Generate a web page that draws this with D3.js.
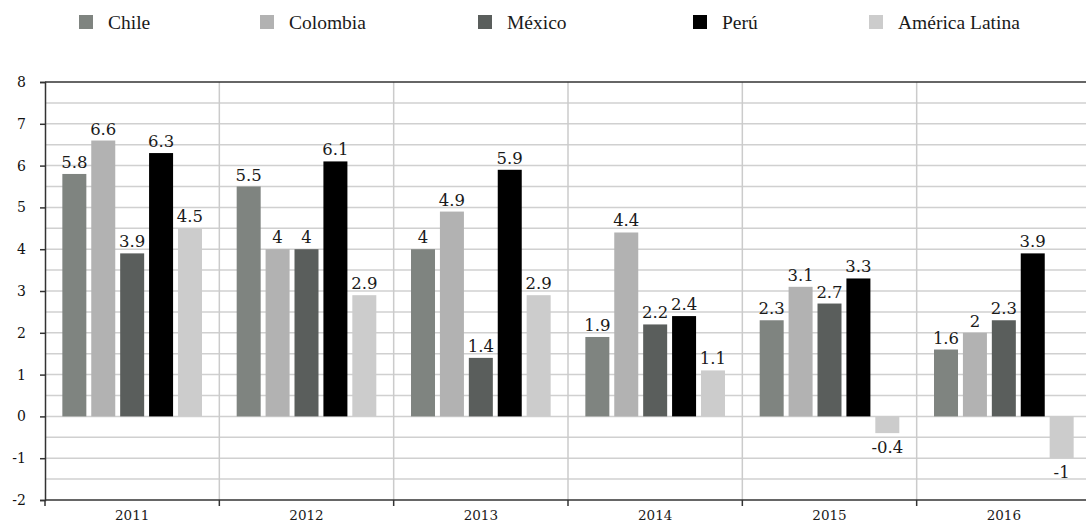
<!DOCTYPE html>
<html>
<head>
<meta charset="utf-8">
<script src="https://cdn.jsdelivr.net/npm/d3@7"></script>
<style>
  body { margin: 0; background: #fff; }
  svg { display: block; }
  .lbl { font-family: "DejaVu Serif", serif; font-size: 16.5px; fill: #1a1a1a; }
  .leg { font-family: "Liberation Serif", serif; font-size: 19.5px; fill: #1a1a1a; }
  .tick text { font-family: "DejaVu Serif", serif; font-size: 14px; fill: #111; }
</style>
</head>
<body>
<script>
// data
var years = ["2011", "2012", "2013", "2014", "2015", "2016"];
var countries = ["Chile", "Colombia", "México", "Perú", "América Latina"];
var chile = [5.8, 5.5, 4, 1.9, 2.3, 1.6];
var colombia = [6.6, 4, 4.9, 4.4, 3.1, 2];
var mexico = [3.9, 4, 1.4, 2.2, 2.7, 2.3];
var peru = [6.3, 6.1, 5.9, 2.4, 3.3, 3.9];
var latam = [4.5, 2.9, 2.9, 1.1, -0.4, -1];
var yTicks = [-2, -1, 0, 1, 2, 3, 4, 5, 6, 7, 8];

var colors = ["#7f8480", "#b2b2b2", "#5a5e5c", "#000000", "#cccccc"];
var seriesList = [chile, colombia, mexico, peru, latam];

var w = 1086, h = 523;
var plotLeft = 45, plotRight = 1091, plotTop = 82, plotBottom = 500;

window.onload = function(){
    var svg = d3.select("body").append("svg")
        .attr("width", w)
        .attr("height", h);

    var x0 = d3.scaleBand().domain(years).range([plotLeft, plotRight]).padding(0);
    var x1 = d3.scaleBand().domain(countries).range([0, x0.bandwidth()])
        .paddingInner(0.17).paddingOuter(0.6);
    var y = d3.scaleLinear().domain([-2, 8]).range([plotBottom, plotTop]);

    //light gridlines every 0.5
    svg.append("g").selectAll("line")
        .data(d3.range(-1.5, 8, 0.5))
        .enter().append("line")
        .attr("x1", plotLeft).attr("x2", plotRight)
        .attr("y1", function(d){ return y(d); })
        .attr("y2", function(d){ return y(d); })
        .style("stroke", "#d0d0d0")
        .style("stroke-width", 1.5);

    //vertical separators between years
    svg.append("g").selectAll("line")
        .data(years.slice(1))
        .enter().append("line")
        .attr("x1", function(d){ return x0(d); })
        .attr("x2", function(d){ return x0(d); })
        .attr("y1", plotTop).attr("y2", plotBottom)
        .style("stroke", "#cbcbcb")
        .style("stroke-width", 1.5);

    //top frame line
    svg.append("line")
        .attr("x1", plotLeft).attr("x2", plotRight)
        .attr("y1", y(8)).attr("y2", y(8))
        .style("stroke", "#333").style("stroke-width", 1.5);

    //flatten to one record per bar
    var bars = [];
    years.forEach(function(yr, i){
        countries.forEach(function(c, j){
            bars.push({year: yr, country: c, value: seriesList[j][i], color: colors[j]});
        });
    });

    svg.selectAll(".bar")
        .data(bars)
        .enter().append("rect")
        .attr("class", "bar")
        .attr("x", function(d){ return x0(d.year) + x1(d.country); })
        .attr("width", x1.bandwidth())
        .attr("y", function(d){ return y(Math.max(0, d.value)); })
        .attr("height", function(d){ return Math.abs(y(d.value) - y(0)); })
        .style("fill", function(d){ return d.color; });

    svg.selectAll(".lbl")
        .data(bars)
        .enter().append("text")
        .attr("class", "lbl")
        .attr("text-anchor", "middle")
        .attr("x", function(d){ return x0(d.year) + x1(d.country) + x1.bandwidth() / 2; })
        .attr("y", function(d){ return d.value >= 0 ? y(d.value) - 6 : y(d.value) + 20; })
        .text(function(d){ return d.value; });

    //y axis
    var yAxis = d3.axisLeft(y).tickValues(yTicks).tickSize(5).tickPadding(14)
        .tickFormat(function(d){ return String(d); });
    var ga = svg.append("g")
        .attr("transform", "translate(" + plotLeft + ",0)")
        .call(yAxis);
    ga.select(".domain").style("stroke", "#333").style("stroke-width", 1.5);
    ga.selectAll(".tick line").style("stroke", "#333").style("stroke-width", 1.5);

    //x axis with ticks at group boundaries
    var gx = svg.append("g")
        .attr("transform", "translate(0," + plotBottom + ")");
    gx.append("line")
        .attr("x1", plotLeft).attr("x2", plotRight)
        .style("stroke", "#333").style("stroke-width", 1.5);
    gx.selectAll(".sep")
        .data(years)
        .enter().append("line")
        .attr("x1", function(d){ return x0(d); })
        .attr("x2", function(d){ return x0(d); })
        .attr("y1", 0).attr("y2", 6)
        .style("stroke", "#333").style("stroke-width", 1.5);
    gx.selectAll("text")
        .data(years)
        .enter().append("text")
        .attr("class", "lbl")
        .style("font-size", "13.5px")
        .attr("text-anchor", "middle")
        .attr("x", function(d){ return x0(d) + x0.bandwidth() / 2; })
        .attr("y", 20)
        .text(function(d){ return d; });

    //legend
    var legX = [79, 260, 478, 693, 869];
    var leg = svg.selectAll(".legitem")
        .data(countries)
        .enter().append("g")
        .attr("transform", function(d, i){ return "translate(" + legX[i] + ",15)"; });
    leg.append("rect")
        .attr("width", 14).attr("height", 14)
        .style("fill", function(d, i){ return colors[i]; });
    leg.append("text")
        .attr("class", "leg")
        .attr("x", 29)
        .attr("y", 14)
        .text(function(d){ return d; });
};
</script>
</body>
</html>
